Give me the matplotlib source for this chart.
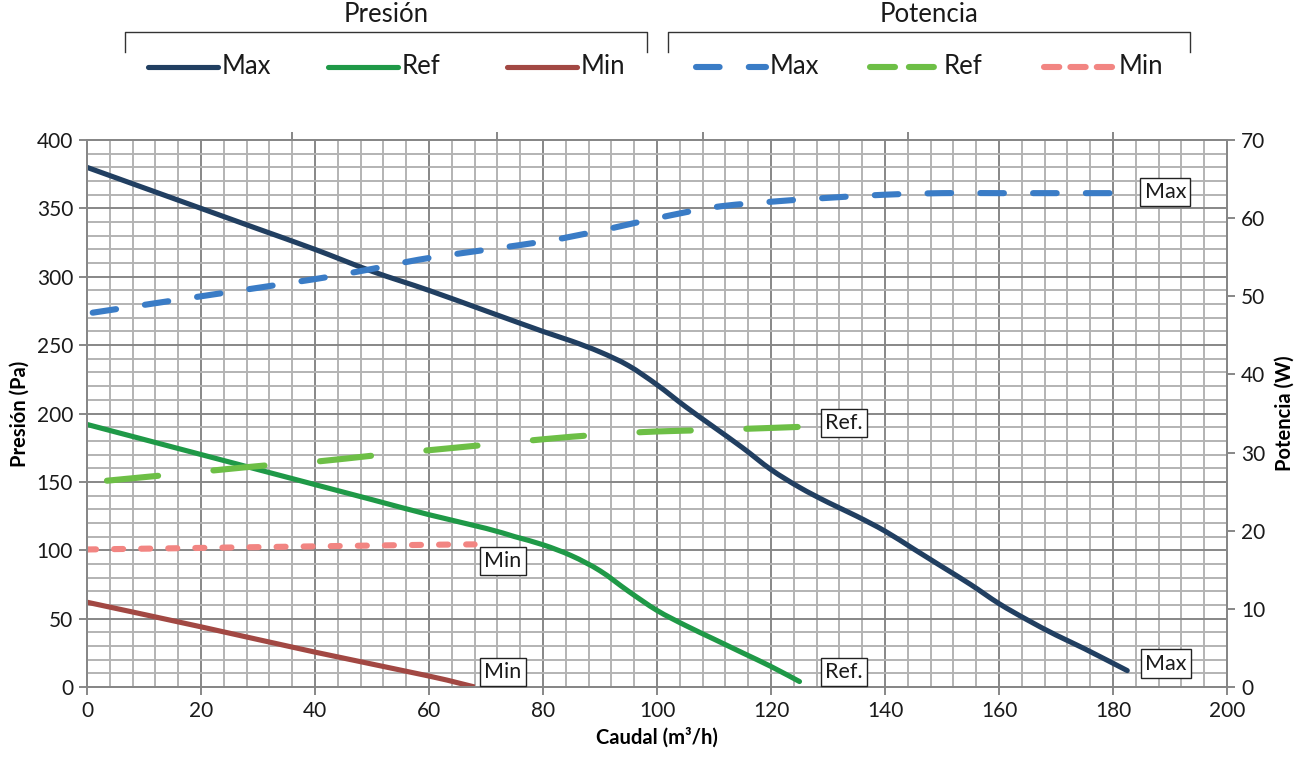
import numpy as np
import matplotlib
matplotlib.use("Agg")
import matplotlib.pyplot as plt
from matplotlib.ticker import MultipleLocator
from matplotlib.lines import Line2D
from matplotlib.path import Path
from matplotlib.patches import PathPatch

plt.rcParams['font.family'] = ['Lato', 'DejaVu Sans']
plt.rcParams['lines.scale_dashes'] = False

# presion (Pa) vs caudal (m3/h)
q_max = [0, 10, 20, 30, 40, 50, 60, 70, 80, 85, 90, 95, 100, 105, 110, 115,
         120, 125, 130, 135, 140, 145, 150, 155, 160, 165, 170, 175, 182.5]
p_max = [380, 365, 350, 335, 320, 304, 290, 275, 260, 253, 245, 235, 221, 205,
         190, 175, 159, 146, 135, 125, 114, 101, 88, 75, 61, 49, 38, 28, 12]

q_ref = [0, 10, 20, 30, 40, 50, 60, 70, 75, 80, 85, 90, 95, 100, 105, 110,
         115, 120, 125]
p_ref = [192, 181, 170, 159, 148, 137, 126, 116, 110, 104, 96, 85, 70, 56, 45,
         35, 25, 15, 4]

q_min = [0, 20, 40, 60, 68]
p_min = [62, 44, 25.5, 8, 0]

# potencia (W) vs caudal
qw_max = [1, 20, 40, 50, 60, 80, 90, 100, 110, 120, 130, 140, 150, 160, 182.5]
w_max = [47.9, 50.0, 52.2, 53.5, 54.9, 57.0, 58.4, 60.0, 61.4, 62.1, 62.6,
         63.0, 63.2, 63.2, 63.2]

qw_ref = [3.5, 13.5, 22, 32, 41, 50, 60, 70, 80, 90, 100, 110, 125.5]
w_ref = [26.4, 27.1, 27.7, 28.4, 28.9, 29.6, 30.3, 31.0, 31.7, 32.3, 32.7,
         32.9, 33.3]

qw_min = [0, 20, 40, 60, 68]
w_min = [17.6, 17.8, 18.0, 18.2, 18.25]

c_max, c_ref, c_min = '#213f61', '#1f9947', '#a24843'
cw_max, cw_ref, cw_min = '#3a7cc6', '#6dbf46', '#f28582'
grid_major, grid_minor = '#878787', '#b3b3b3'


def smooth_path(x, y):
    # cubic bezier through every point (catmull-rom tangents)
    p = np.column_stack([x, y]).astype(float)
    n = len(p)
    verts = [p[0]]
    codes = [Path.MOVETO]
    for i in range(n - 1):
        p0 = p[max(i - 1, 0)]
        p1, p2 = p[i], p[i + 1]
        p3 = p[min(i + 2, n - 1)]
        verts += [p1 + (p2 - p0) / 6, p2 - (p3 - p1) / 6, p2]
        codes += [Path.CURVE4] * 3
    return Path(verts, codes)


def curve(a, x, y, color, lw, dashes=None, cap='round'):
    ls = '-' if dashes is None else (0, dashes)
    patch = PathPatch(smooth_path(x, y), fill=False, edgecolor=color, lw=lw,
                      linestyle=ls, capstyle=cap, joinstyle='round')
    a.add_patch(patch)


W, H = 1312, 769
fig = plt.figure(figsize=(W / 100, H / 100), dpi=100)
ax = fig.add_axes([87 / W, 1 - 687 / H, (1227 - 87) / W, (687 - 140) / H])
ax2 = ax.twinx()

lw_solid = 3.7
lw_dash = 4.4
curve(ax, q_max, p_max, c_max, lw_solid)
curve(ax, q_ref, p_ref, c_ref, lw_solid)
curve(ax, q_min, p_min, c_min, lw_solid, cap='butt')

curve(ax2, qw_max, w_max, cw_max, lw_dash, (17, 21))
curve(ax2, qw_ref, w_ref, cw_ref, lw_dash, (37, 40))
curve(ax2, qw_min, w_min, cw_min, lw_dash, (6.5, 13))

ax.set_xlim(0, 200)
ax.set_ylim(0, 400)
ax2.set_ylim(0, 70)
ax.xaxis.set_major_locator(MultipleLocator(20))
ax.xaxis.set_minor_locator(MultipleLocator(4))
ax.yaxis.set_major_locator(MultipleLocator(50))
ax.yaxis.set_minor_locator(MultipleLocator(10))
ax2.yaxis.set_major_locator(MultipleLocator(10))

ax.grid(which='major', color=grid_major, lw=1.4)
ax.grid(which='minor', color=grid_minor, lw=1.4)
ax.set_axisbelow(True)

for a in (ax, ax2):
    for s in a.spines.values():
        s.set_color(grid_major)
        s.set_linewidth(1.4)
ax.tick_params(which='major', length=6, width=1.4, color=grid_major,
               labelsize=15, labelcolor='#1a1a1a', pad=4)
ax.tick_params(which='minor', length=0)
ax2.tick_params(which='major', length=6, width=1.4, color=grid_major,
                labelsize=15, labelcolor='#1a1a1a', pad=4)

top = ax.secondary_xaxis('top')
top.set_xticks([36, 72, 108, 144, 180])
top.tick_params(length=6, width=1.4, color=grid_major, labeltop=False)
top.spines['top'].set_visible(False)

ax.set_ylabel('Presión (Pa)', fontsize=14.5, fontweight='bold', labelpad=5)
ax2.set_ylabel('Potencia (W)', fontsize=14.5, fontweight='bold', labelpad=7)
ax.set_xlabel('Caudal (m³/h)', fontsize=14.5, fontweight='bold', labelpad=5)

# end-of-curve labels
box = dict(boxstyle='square,pad=0.2', fc='white', ec='#222222', lw=1)
labels = [(189.2, 362, 'Max'), (132.8, 193, 'Ref.'), (73, 92, 'Min'),
          (73, 11, 'Min'), (132.8, 11, 'Ref.'), (189.3, 17, 'Max')]
for x, y, t in labels:
    ax2.text(x, y * 70 / 400, t, ha='center', va='center', fontsize=15.5,
             color='#1a1a1a', bbox=box)

# legend drawn in pixel coordinates above the plot
lg = fig.add_axes([0, 0, 1, 1], facecolor='none')
lg.set_xlim(0, W)
lg.set_ylim(H, 0)
lg.axis('off')

groups = [('Presión', 125, 647), ('Potencia', 668, 1190)]
for title, x0, x1 in groups:
    lg.plot([x0, x0, x1, x1], [52, 32, 32, 52], color='#333333', lw=1)
    lg.text((x0 + x1) / 2, 15, title, ha='center', va='center', fontsize=18.5,
            color='#1a1a1a')

entries = [
    (148, 218, c_max, None, 'Max'),
    (328, 398, c_ref, None, 'Ref'),
    (507, 577, c_min, None, 'Min'),
    (696, 766, cw_max, (17, 21), 'Max'),
    (870, 940, cw_ref, (18, 10), 'Ref'),
    (1044, 1115, cw_min, (11, 8), 'Min'),
]
for x0, x1, col, dsh, t in entries:
    if dsh is None:
        lg.add_line(Line2D([x0, x1], [67, 67], color=col, lw=lw_solid,
                           solid_capstyle='round'))
    else:
        lg.add_line(Line2D([x0, x1], [67, 67], color=col, lw=lw_dash,
                           dashes=dsh, dash_capstyle='round'))
    lg.text(x1 + 4, 67, t, ha='left', va='center', fontsize=18.5,
            color='#1a1a1a')

fig.savefig('out.png', dpi=100)
